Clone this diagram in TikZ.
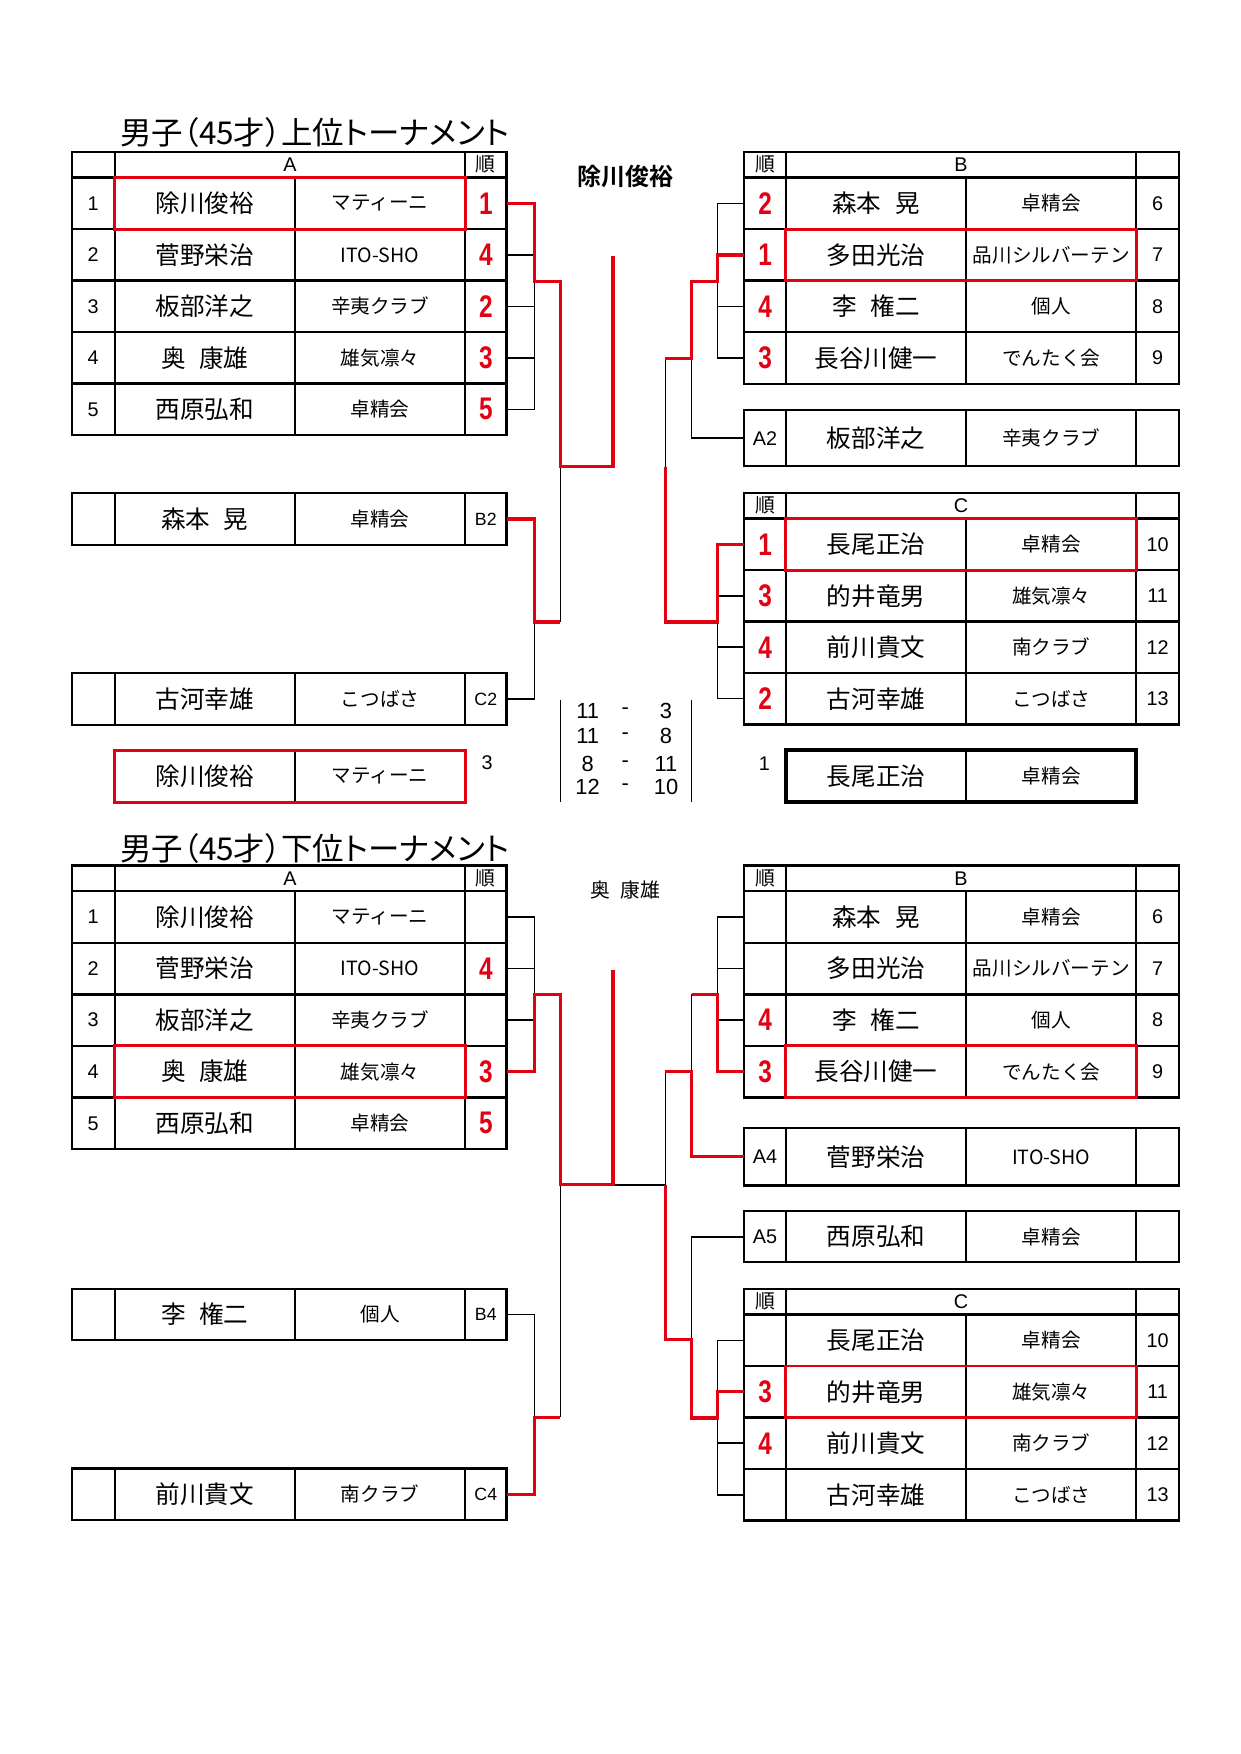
\documentclass[tikz,border=0pt]{standalone}
\usepackage{fontspec}
\setmainfont{Liberation Sans}
\newfontfamily\jp{Noto Sans CJK JP}[BoldFont={* Bold}]
\newfontfamily\jpp{Noto Sans CJK JP}[RawFeature=+palt]
\definecolor{winred}{RGB}{226,0,18}
\newlength{\px}\setlength{\px}{0.5367pt}
\newcommand{\namef}{\jp\fontsize{11.8}{13}\selectfont}
\newcommand{\clubf}{\jp\fontsize{9.4}{11}\selectfont}
\newcommand{\numf}{\fontsize{9.5}{11}\selectfont}
\newcommand{\rkf}{\bfseries\fontsize{15}{16}\selectfont\color{winred}}
\newcommand{\tagf}{\fontsize{8.5}{9}\selectfont}
\newcommand{\hdrf}{\fontsize{9.5}{10}\selectfont}
\newcommand{\titlef}{\jpp\fontsize{15.1}{16}\selectfont}
\newcommand{\gap}{\hspace{0.55em}}
\newcommand{\rk}[1]{\scalebox{0.78}[1]{#1}}

\begin{document}
\begin{tikzpicture}[x=0.5367pt,y=-0.5367pt,
    cell/.style={draw,line width=1.1pt,inner sep=0pt,outer sep=0pt,minimum height=46.2\px},
    nocol/.style={cell,minimum width=38.3\px,font=\numf},
    namecol/.style={cell,minimum width=161.4\px,font=\namef},
    clubcol/.style={cell,minimum width=151.9\px,font=\clubf},
    rkcol/.style={cell,minimum width=37\px,font=\rkf},
    tagcol/.style={cell,minimum width=37\px,font=\tagf},
    hdr/.style={cell,minimum height=23\px,font=\hdrf},
    bk/.style={line width=0.75pt},
    win/.style={winred,line width=1.5pt},
    pick/.style={winred,line width=1.4pt}]
    \useasboundingbox (0,0) rectangle (1109,1568);
    \coordinate (c1) at (477.9,0);
    \coordinate (c6) at (641.4,0);

    % upper tournament
    \node[anchor=west,font=\titlef] (ttl1) at (101,118.5) {男子（45才）上位トーナメント};
    \node[font=\jp\bfseries\fontsize{11.5}{12}\selectfont] (ch1) at (559,158) {除川俊裕};
    \node[hdr,minimum width=38.3\px] (uAh0) at (83.35,147.2) {};
    \node[hdr,minimum width=313.3\px] (uAh) at (259.15,147.2) {A};
    \node[hdr,minimum width=37\px] (uAhr) at (434.3,147.2) {\jp 順};
    \foreach \y/\nr/\nm/\cl/\rank in {181.9/1/除川俊裕/マティーニ/1, 227.9/2/菅野栄治/ITO-SHO/4,
        273.9/3/板部洋之/辛夷クラブ/2, 319.9/4/奥\gap 康雄/雄気凛々/3, 365.9/5/西原弘和/卓精会/5}{
        \node[nocol] (uAo\nr) at (83.35,\y) {\nr};
        \node[namecol] (uAn\nr) at (183.2,\y) {\nm};
        \node[clubcol] (uAc\nr) at (339.85,\y) {\cl};
        \node[rkcol] (uAr\nr) at (434.3,\y) {\rk{\rank}};
    }
    \node[hdr,minimum width=37\px] (uBhr) at (683.9,147.2) {\jp 順};
    \node[hdr,minimum width=313.3\px] (uBh) at (859.05,147.2) {B};
    \node[hdr,minimum width=38.3\px] (uBh0) at (1034.85,147.2) {};
    \foreach \y/\nr/\nm/\cl/\rank in {181.9/6/森本\gap 晃/卓精会/2, 227.9/7/多田光治/品川シルバーテン/1,
        273.9/8/李\gap 権二/個人/4, 319.9/9/長谷川健一/でんたく会/3}{
        \node[rkcol] (uBr\nr) at (683.9,\y) {\rk{\rank}};
        \node[namecol] (uBn\nr) at (783.1,\y) {\nm};
        \node[clubcol] (uBc\nr) at (939.75,\y) {\cl};
        \node[nocol] (uBo\nr) at (1034.85,\y) {\nr};
    }
    \node[hdr,minimum width=37\px] (uChr) at (683.9,452) {\jp 順};
    \node[hdr,minimum width=313.3\px] (uCh) at (859.05,452) {C};
    \node[hdr,minimum width=38.3\px] (uCh0) at (1034.85,452) {};
    \foreach \y/\nr/\nm/\cl/\rank in {486.6/10/長尾正治/卓精会/1, 532.6/11/的井竜男/雄気凛々/3,
        578.6/12/前川貴文/南クラブ/4, 624.6/13/古河幸雄/こつばさ/2}{
        \node[rkcol] (uCr\nr) at (683.9,\y) {\rk{\rank}};
        \node[namecol] (uCn\nr) at (783.1,\y) {\nm};
        \node[clubcol] (uCc\nr) at (939.75,\y) {\cl};
        \node[nocol] (uCo\nr) at (1034.85,\y) {\nr};
    }

    % lower tournament
    \node[anchor=west,font=\titlef] (ttl2) at (101,758.7) {男子（45才）下位トーナメント};
    \node[font=\jp\fontsize{9.5}{10}\selectfont] (ch2) at (559,796) {奥\gap 康雄};
    \node[hdr,minimum width=38.3\px] (lAh0) at (83.35,785.1) {};
    \node[hdr,minimum width=313.3\px] (lAh) at (259.15,785.1) {A};
    \node[hdr,minimum width=37\px] (lAhr) at (434.3,785.1) {\jp 順};
    \foreach \y/\nr/\nm/\cl/\rank in {819.7/1/除川俊裕/マティーニ/{}, 865.8/2/菅野栄治/ITO-SHO/4,
        911.9/3/板部洋之/辛夷クラブ/{}, 958/4/奥\gap 康雄/雄気凛々/3, 1004.2/5/西原弘和/卓精会/5}{
        \node[nocol] (lAo\nr) at (83.35,\y) {\nr};
        \node[namecol] (lAn\nr) at (183.2,\y) {\nm};
        \node[clubcol] (lAc\nr) at (339.85,\y) {\cl};
        \node[rkcol] (lAr\nr) at (434.3,\y) {\rk{\rank}};
    }
    \node[hdr,minimum width=37\px] (lBhr) at (683.9,785.1) {\jp 順};
    \node[hdr,minimum width=313.3\px] (lBh) at (859.05,785.1) {B};
    \node[hdr,minimum width=38.3\px] (lBh0) at (1034.85,785.1) {};
    \foreach \y/\nr/\nm/\cl/\rank in {819.7/6/森本\gap 晃/卓精会/{}, 865.8/7/多田光治/品川シルバーテン/{},
        911.9/8/李\gap 権二/個人/4, 958/9/長谷川健一/でんたく会/3}{
        \node[rkcol] (lBr\nr) at (683.9,\y) {\rk{\rank}};
        \node[namecol] (lBn\nr) at (783.1,\y) {\nm};
        \node[clubcol] (lBc\nr) at (939.75,\y) {\cl};
        \node[nocol] (lBo\nr) at (1034.85,\y) {\nr};
    }
    \node[hdr,minimum width=37\px] (lChr) at (683.9,1163.6) {\jp 順};
    \node[hdr,minimum width=313.3\px] (lCh) at (859.05,1163.6) {C};
    \node[hdr,minimum width=38.3\px] (lCh0) at (1034.85,1163.6) {};
    \foreach \y/\nr/\nm/\cl/\rank in {1198.2/10/長尾正治/卓精会/{}, 1244.2/11/的井竜男/雄気凛々/3,
        1290.2/12/前川貴文/南クラブ/4, 1336.2/13/古河幸雄/こつばさ/{}}{
        \node[rkcol] (lCr\nr) at (683.9,\y) {\rk{\rank}};
        \node[namecol] (lCn\nr) at (783.1,\y) {\nm};
        \node[clubcol] (lCc\nr) at (939.75,\y) {\cl};
        \node[nocol] (lCo\nr) at (1034.85,\y) {\nr};
    }

    % single entries
    \foreach \y/\tg/\nm/\cl in {464/B2/森本\gap 晃/卓精会, 625/C2/古河幸雄/こつばさ,
        1175.1/B4/李\gap 権二/個人, 1335.8/C4/前川貴文/南クラブ}{
        \node[nocol] (o\tg) at (83.35,\y) {};
        \node[namecol] (n\tg) at (183.2,\y) {\nm};
        \node[clubcol] (c\tg) at (339.85,\y) {\cl};
        \node[tagcol] (\tg) at (434.3,\y) {\tg};
    }
    \foreach \y/\h/\tg/\nm/\cl in {391.7/50/A2/板部洋之/辛夷クラブ, 1034.2/51.3/A4/菅野栄治/ITO-SHO,
        1105.6/45.6/A5/西原弘和/卓精会}{
        \node[tagcol,minimum height=\h\px,font=\hdrf] (\tg) at (683.9,\y) {\tg};
        \node[namecol,minimum height=\h\px] (n\tg) at (783.1,\y) {\nm};
        \node[clubcol,minimum height=\h\px] (c\tg) at (939.75,\y) {\cl};
        \node[nocol,minimum height=\h\px] (o\tg) at (1034.85,\y) {};
    }

    % places
    \node[namecol,draw=none] (thn) at (183.2,693.9) {除川俊裕};
    \node[clubcol,draw=none] (thc) at (339.85,693.9) {マティーニ};
    \draw[line width=1.1pt] (thn.north east) -- (thn.south east);
    \draw[pick] (thn.north west) rectangle (thc.south east);
    \node[font=\numf] (thr) at (435.4,682) {3};
    \node[namecol] (fn) at (783.1,693.6) {長尾正治};
    \node[clubcol] (fc) at (939.75,693.6) {卓精会};
    \draw[line width=1.9pt] (fn.north west) rectangle (fc.south east);
    \node[font=\numf] (fr) at (683.3,682.7) {1};

    % picked rows
    \draw[pick] (uAn1.north west) rectangle (uAc1.south east);
    \draw[pick] (uBn7.north west) rectangle (uBc7.south east);
    \draw[pick] (uCn10.north west) rectangle (uCc10.south east);
    \draw[pick] (lAn4.north west) rectangle (lAc4.south east);
    \draw[pick] (lBn9.north west) rectangle (lBc9.south east);
    \draw[pick] (lCn11.north west) rectangle (lCc11.south east);

    % scores
    \draw[bk] (500.9,625.5) -- (500.9,717) (618.2,625.5) -- (618.2,717);
    \foreach \y/\a/\b [count=\k] in {635.6/11/3, 658/11/8, 682.7/8/11, 703.6/12/10}{
        \node[font=\fontsize{10.5}{11}\selectfont] (sa\k) at (525.3,\y) {\a};
        \node[font=\fontsize{10.5}{11}\selectfont] (sd\k) at (559,\y) {-};
        \node[font=\fontsize{10.5}{11}\selectfont] (sb\k) at (595.4,\y) {\b};
    }

    % upper bracket
    \coordinate (uAj) at (477.9,251.3);
    \coordinate (uL) at (500.9,417.4);
    \coordinate (uTop) at (548,228.7);
    \coordinate (uQj) at (477.9,556);
    \coordinate (uQ) at (500.9,556);
    \foreach \i in {2,...,5} \draw[bk] (uAr\i.east) -- (uAr\i.east -| c1);
    \draw[bk] (uAr1.east -| c1) -- (uAr5.east -| c1);
    \draw[bk] (uL) -- (uQ);
    \draw[bk] (C2.east) -| (uQj);
    \draw[win] (B2.east) -| (uQj) -- (uQ);
    \draw[win] (uAr1.east) -| (uAj) -| (uL) -| (uTop);
    \coordinate (uBj) at (641.4,251.3);
    \coordinate (uRj) at (618.2,320.5);
    \coordinate (uRs) at (594.9,320.5);
    \coordinate (uR) at (594.9,417.4);
    \coordinate (uCj) at (641.4,556);
    \foreach \i in {6,8,9} \draw[bk] (uBr\i.west) -- (uBr\i.west -| c6);
    \draw[bk] (uBr6.west -| c6) -- (uBr9.west -| c6);
    \draw[bk] (uRj) |- (A2.west);
    \draw[bk] (uRs) -- (uR);
    \draw[win] (uBr7.west) -| (uBj) -| (uRj) -- (uRs);
    \foreach \i in {11,12,13} \draw[bk] (uCr\i.west) -- (uCr\i.west -| c6);
    \draw[bk] (uCj) -- (uCr13.west -| c6);
    \draw[win] (uR) |- (uCj) |- (uCr10.west);

    % lower bracket
    \coordinate (lAj) at (477.9,888.9);
    \coordinate (lL) at (500.9,1059.2);
    \coordinate (lTop) at (548,867.2);
    \coordinate (lR) at (594.9,1059.2);
    \coordinate (lQj) at (477.9,1267);
    \coordinate (lQ) at (500.9,1267);
    \foreach \i in {1,2,3} \draw[bk] (lAr\i.east) -- (lAr\i.east -| c1);
    \draw[bk] (lAr1.east -| c1) -- (lAj);
    \draw[bk] (lTop |- lL) -- (lR);
    \draw[bk] (lL) -- (lQ);
    \draw[bk] (B4.east) -| (lQj);
    \draw[win] (C4.east) -| (lQj) -- (lQ);
    \draw[win] (lAr4.east) -| (lAj) -| (lL) -| (lTop);
    \coordinate (lBj) at (641.4,889);
    \coordinate (lRj) at (618.2,889);
    \coordinate (lRm) at (618.2,957.6);
    \coordinate (lRs) at (594.9,957.6);
    \coordinate (lCa) at (618.2,1197.8);
    \coordinate (lCj) at (641.4,1267.6);
    \foreach \i in {6,7,8} \draw[bk] (lBr\i.west) -- (lBr\i.west -| c6);
    \draw[bk] (lBr6.west -| c6) -- (lBj);
    \draw[bk] (lRj) -- (lRm);
    \draw[bk] (lRs) -- (lR);
    \draw[bk] (A5.west) -| (lCa);
    \foreach \i in {10,12,13} \draw[bk] (lCr\i.west) -- (lCr\i.west -| c6);
    \draw[bk] (lCr10.west -| c6) -- (lCr13.west -| c6);
    \draw[win] (lBr9.west) -| (lBj) -- (lRj);
    \draw[win] (A4.west) -| (lRm) -- (lRs);
    \draw[win] (lR) |- (lCa) |- (lCj) |- (lCr11.west);
\end{tikzpicture}
\end{document}
